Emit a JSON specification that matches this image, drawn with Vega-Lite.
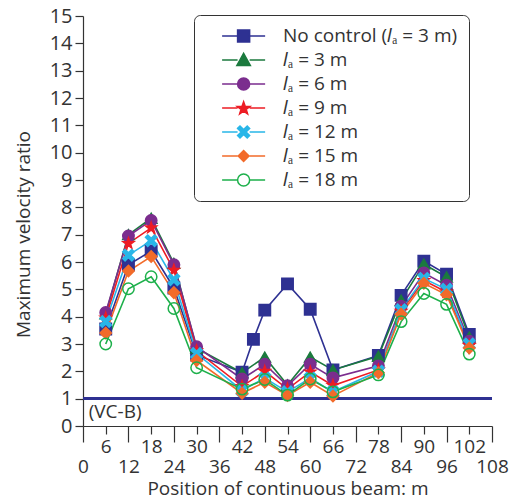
{
  "$schema": "https://vega.github.io/schema/vega-lite/v6.json",
  "width": 409,
  "height": 410,
  "autosize": {"type": "none"},
  "padding": {"left": 83, "top": 16, "right": 20, "bottom": 78},
  "config": {
    "view": {"stroke": null},
    "font": "Open Sans",
    "axis": {"domainColor": "#333", "tickColor": "#333", "labelColor": "#333", "titleColor": "#333", "grid": false, "labelFont": "Open Sans", "titleFont": "Open Sans", "titleFontWeight": "normal", "domainWidth": 1.2, "tickWidth": 1.2}
  },
  "datasets": {
    "series": [
      {"s": "No control (𝑙ₐ = 3 m)", "x": 6, "y": 3.55},
      {"s": "No control (𝑙ₐ = 3 m)", "x": 12, "y": 5.9},
      {"s": "No control (𝑙ₐ = 3 m)", "x": 18, "y": 6.4},
      {"s": "No control (𝑙ₐ = 3 m)", "x": 24, "y": 5.05},
      {"s": "No control (𝑙ₐ = 3 m)", "x": 30, "y": 2.6},
      {"s": "No control (𝑙ₐ = 3 m)", "x": 42, "y": 1.97},
      {"s": "No control (𝑙ₐ = 3 m)", "x": 45, "y": 3.17},
      {"s": "No control (𝑙ₐ = 3 m)", "x": 48, "y": 4.24},
      {"s": "No control (𝑙ₐ = 3 m)", "x": 54, "y": 5.2},
      {"s": "No control (𝑙ₐ = 3 m)", "x": 60, "y": 4.27},
      {"s": "No control (𝑙ₐ = 3 m)", "x": 66, "y": 2.05},
      {"s": "No control (𝑙ₐ = 3 m)", "x": 78, "y": 2.58},
      {"s": "No control (𝑙ₐ = 3 m)", "x": 84, "y": 4.78},
      {"s": "No control (𝑙ₐ = 3 m)", "x": 90, "y": 6.03},
      {"s": "No control (𝑙ₐ = 3 m)", "x": 96, "y": 5.55},
      {"s": "No control (𝑙ₐ = 3 m)", "x": 102, "y": 3.35},
      {"s": "𝑙ₐ = 3 m", "x": 6, "y": 4.1},
      {"s": "𝑙ₐ = 3 m", "x": 12, "y": 7.0},
      {"s": "𝑙ₐ = 3 m", "x": 18, "y": 7.6},
      {"s": "𝑙ₐ = 3 m", "x": 24, "y": 5.95},
      {"s": "𝑙ₐ = 3 m", "x": 30, "y": 2.85},
      {"s": "𝑙ₐ = 3 m", "x": 42, "y": 1.95},
      {"s": "𝑙ₐ = 3 m", "x": 48, "y": 2.52},
      {"s": "𝑙ₐ = 3 m", "x": 54, "y": 1.5},
      {"s": "𝑙ₐ = 3 m", "x": 60, "y": 2.52},
      {"s": "𝑙ₐ = 3 m", "x": 66, "y": 2.05},
      {"s": "𝑙ₐ = 3 m", "x": 78, "y": 2.55},
      {"s": "𝑙ₐ = 3 m", "x": 84, "y": 4.6},
      {"s": "𝑙ₐ = 3 m", "x": 90, "y": 5.92},
      {"s": "𝑙ₐ = 3 m", "x": 96, "y": 5.45},
      {"s": "𝑙ₐ = 3 m", "x": 102, "y": 3.25},
      {"s": "𝑙ₐ = 6 m", "x": 6, "y": 4.15},
      {"s": "𝑙ₐ = 6 m", "x": 12, "y": 6.95},
      {"s": "𝑙ₐ = 6 m", "x": 18, "y": 7.52},
      {"s": "𝑙ₐ = 6 m", "x": 24, "y": 5.9},
      {"s": "𝑙ₐ = 6 m", "x": 30, "y": 2.9},
      {"s": "𝑙ₐ = 6 m", "x": 42, "y": 1.72},
      {"s": "𝑙ₐ = 6 m", "x": 48, "y": 2.26},
      {"s": "𝑙ₐ = 6 m", "x": 54, "y": 1.47},
      {"s": "𝑙ₐ = 6 m", "x": 60, "y": 2.26},
      {"s": "𝑙ₐ = 6 m", "x": 66, "y": 1.76},
      {"s": "𝑙ₐ = 6 m", "x": 78, "y": 2.2},
      {"s": "𝑙ₐ = 6 m", "x": 84, "y": 4.38},
      {"s": "𝑙ₐ = 6 m", "x": 90, "y": 5.6},
      {"s": "𝑙ₐ = 6 m", "x": 96, "y": 5.15},
      {"s": "𝑙ₐ = 6 m", "x": 102, "y": 3.1},
      {"s": "𝑙ₐ = 9 m", "x": 6, "y": 3.95},
      {"s": "𝑙ₐ = 9 m", "x": 12, "y": 6.68},
      {"s": "𝑙ₐ = 9 m", "x": 18, "y": 7.25},
      {"s": "𝑙ₐ = 9 m", "x": 24, "y": 5.7},
      {"s": "𝑙ₐ = 9 m", "x": 30, "y": 2.75},
      {"s": "𝑙ₐ = 9 m", "x": 42, "y": 1.45},
      {"s": "𝑙ₐ = 9 m", "x": 48, "y": 2.0},
      {"s": "𝑙ₐ = 9 m", "x": 54, "y": 1.35},
      {"s": "𝑙ₐ = 9 m", "x": 60, "y": 1.98},
      {"s": "𝑙ₐ = 9 m", "x": 66, "y": 1.48},
      {"s": "𝑙ₐ = 9 m", "x": 78, "y": 2.05},
      {"s": "𝑙ₐ = 9 m", "x": 84, "y": 4.2},
      {"s": "𝑙ₐ = 9 m", "x": 90, "y": 5.32},
      {"s": "𝑙ₐ = 9 m", "x": 96, "y": 4.9},
      {"s": "𝑙ₐ = 9 m", "x": 102, "y": 2.95},
      {"s": "𝑙ₐ = 12 m", "x": 6, "y": 3.82},
      {"s": "𝑙ₐ = 12 m", "x": 12, "y": 6.25},
      {"s": "𝑙ₐ = 12 m", "x": 18, "y": 6.78},
      {"s": "𝑙ₐ = 12 m", "x": 24, "y": 5.35},
      {"s": "𝑙ₐ = 12 m", "x": 30, "y": 2.65},
      {"s": "𝑙ₐ = 12 m", "x": 42, "y": 1.3},
      {"s": "𝑙ₐ = 12 m", "x": 48, "y": 1.75},
      {"s": "𝑙ₐ = 12 m", "x": 54, "y": 1.25},
      {"s": "𝑙ₐ = 12 m", "x": 60, "y": 1.75},
      {"s": "𝑙ₐ = 12 m", "x": 66, "y": 1.25},
      {"s": "𝑙ₐ = 12 m", "x": 78, "y": 2.0},
      {"s": "𝑙ₐ = 12 m", "x": 84, "y": 4.25},
      {"s": "𝑙ₐ = 12 m", "x": 90, "y": 5.4},
      {"s": "𝑙ₐ = 12 m", "x": 96, "y": 5.0},
      {"s": "𝑙ₐ = 12 m", "x": 102, "y": 3.0},
      {"s": "𝑙ₐ = 15 m", "x": 6, "y": 3.4},
      {"s": "𝑙ₐ = 15 m", "x": 12, "y": 5.67},
      {"s": "𝑙ₐ = 15 m", "x": 18, "y": 6.2},
      {"s": "𝑙ₐ = 15 m", "x": 24, "y": 4.88},
      {"s": "𝑙ₐ = 15 m", "x": 30, "y": 2.4},
      {"s": "𝑙ₐ = 15 m", "x": 42, "y": 1.2},
      {"s": "𝑙ₐ = 15 m", "x": 48, "y": 1.6},
      {"s": "𝑙ₐ = 15 m", "x": 54, "y": 1.12},
      {"s": "𝑙ₐ = 15 m", "x": 60, "y": 1.6},
      {"s": "𝑙ₐ = 15 m", "x": 66, "y": 1.1},
      {"s": "𝑙ₐ = 15 m", "x": 78, "y": 1.95},
      {"s": "𝑙ₐ = 15 m", "x": 84, "y": 4.1},
      {"s": "𝑙ₐ = 15 m", "x": 90, "y": 5.22},
      {"s": "𝑙ₐ = 15 m", "x": 96, "y": 4.8},
      {"s": "𝑙ₐ = 15 m", "x": 102, "y": 2.85},
      {"s": "𝑙ₐ = 18 m", "x": 6, "y": 3.0},
      {"s": "𝑙ₐ = 18 m", "x": 12, "y": 5.02},
      {"s": "𝑙ₐ = 18 m", "x": 18, "y": 5.46},
      {"s": "𝑙ₐ = 18 m", "x": 24, "y": 4.3},
      {"s": "𝑙ₐ = 18 m", "x": 30, "y": 2.13},
      {"s": "𝑙ₐ = 18 m", "x": 42, "y": 1.35},
      {"s": "𝑙ₐ = 18 m", "x": 48, "y": 1.7},
      {"s": "𝑙ₐ = 18 m", "x": 54, "y": 1.13},
      {"s": "𝑙ₐ = 18 m", "x": 60, "y": 1.72},
      {"s": "𝑙ₐ = 18 m", "x": 66, "y": 1.25},
      {"s": "𝑙ₐ = 18 m", "x": 78, "y": 1.87},
      {"s": "𝑙ₐ = 18 m", "x": 84, "y": 3.82},
      {"s": "𝑙ₐ = 18 m", "x": 90, "y": 4.85},
      {"s": "𝑙ₐ = 18 m", "x": 96, "y": 4.45},
      {"s": "𝑙ₐ = 18 m", "x": 102, "y": 2.63}
    ],
    "notes": [{"x": 1.5, "y": 0.5, "t": "(VC-B)"}]
  },
  "layer": [
    {
      "data": {"name": "series"},
      "mark": {"type": "rule"},
      "encoding": {
        "y": {"datum": 1, "type": "quantitative"},
        "color": {"value": "#2E3192"},
        "strokeWidth": {"value": 2.5}
      }
    },
    {
      "data": {"name": "notes"},
      "mark": {"type": "text", "align": "left", "baseline": "middle", "fontSize": 19, "font": "Open Sans", "color": "#333"},
      "encoding": {
        "x": {"field": "x", "type": "quantitative"},
        "y": {"field": "y", "type": "quantitative"},
        "text": {"field": "t"}
      }
    },
    {
      "data": {"name": "series"},
      "mark": {"type": "line", "strokeWidth": 1.6},
      "encoding": {
        "x": {
          "field": "x", "type": "quantitative",
          "scale": {"domain": [0, 108], "nice": false},
          "axis": {
            "values": [0, 6, 12, 18, 24, 30, 36, 42, 48, 54, 60, 66, 72, 78, 84, 90, 96, 102, 108],
            "tickCount": 40,
            "format": "d",
            "title": "Position of continuous beam: m",
            "titleFontSize": 19,
            "titleY": 53,
            "labelFontSize": 19,
            "labelFlush": false,
            "labelOverlap": false,
            "labelBound": false,
            "labelExpr": "datum.value % 12 === 0 ? ['', datum.label] : datum.label",
            "labelLineHeight": 12,
            "tickSize": {"condition": {"test": "datum.value % 12 === 0", "value": 16}, "value": 8},
            "labelPadding": 3
          }
        },
        "y": {
          "field": "y", "type": "quantitative",
          "scale": {"domain": [0, 15], "nice": false},
          "axis": {
            "values": [0, 1, 2, 3, 4, 5, 6, 7, 8, 9, 10, 11, 12, 13, 14, 15],
            "tickCount": 40,
            "format": "d",
            "title": "Maximum velocity ratio",
            "titleFontSize": 19,
            "titleY": 218,
            "labelFontSize": 20,
            "labelOverlap": false,
            "tickSize": 8,
            "labelPadding": 3,
            "labelFlush": false,
            "titlePadding": 16
          }
        },
        "color": {
          "field": "s", "type": "nominal", "sort": null,
          "scale": {
            "domain": ["No control (𝑙ₐ = 3 m)", "𝑙ₐ = 3 m", "𝑙ₐ = 6 m", "𝑙ₐ = 9 m", "𝑙ₐ = 12 m", "𝑙ₐ = 15 m", "𝑙ₐ = 18 m"],
            "range": ["#2E3192", "#1B7A3E", "#7B2D8E", "#ED1C24", "#29B6E8", "#F26B2A", "#1DB04B"]
          },
          "legend": {
            "title": null,
            "orient": "none",
            "legendX": 111,
            "legendY": -1,
            "labelFontSize": 19,
            "labelFont": "Open Sans",
            "labelColor": "#333",
            "labelLimit": 400,
            "symbolSize": 324,
            "symbolStrokeWidth": 1.5,
            "labelOffset": 58,
            "rowPadding": 4,
            "padding": 11,
            "strokeColor": "#333",
            "fillColor": "white",
            "cornerRadius": 6,
            "encode": {
              "symbols": {
                "update": {
                  "shape": {"signal": "['M0.79,0H2.51M3.85,0H5.57M2.51,-0.67H3.85V0.67H2.51Z', 'M0.79,0H2.51M3.85,0H5.57M3.18,-0.75L3.93,0.6H2.43Z', 'M0.79,0H2.51M3.85,0H5.57M2.51,0A0.67,0.67 0 1,0 3.85,0A0.67,0.67 0 1,0 2.51,0Z', 'M0.79,0H2.51M3.85,0H5.57M3.18,-0.7L3.356,-0.193L3.893,-0.182L3.465,0.143L3.621,0.657L3.18,0.35L2.739,0.657L2.895,0.143L2.467,-0.182L3.004,-0.193Z', 'M0.79,0H2.51M3.85,0H5.57M2.51,-0.402L2.778,-0.67L3.18,-0.268L3.582,-0.67L3.85,-0.402L3.448,0L3.85,0.402L3.582,0.67L3.18,0.268L2.778,0.67L2.51,0.402L2.912,0Z', 'M0.79,0H2.51M3.85,0H5.57M3.18,-0.6L3.78,0L3.18,0.6L2.58,0Z', 'M0.79,0H2.51M3.85,0H5.57M2.51,0A0.67,0.67 0 1,0 3.85,0A0.67,0.67 0 1,0 2.51,0Z'][datum.index]"},
                  "fill": {"signal": "['#2E3192', '#1B7A3E', '#7B2D8E', '#ED1C24', '#29B6E8', '#F26B2A', 'white'][datum.index]"},
                  "stroke": {"signal": "['#2E3192', '#1B7A3E', '#7B2D8E', '#ED1C24', '#29B6E8', '#F26B2A', '#1DB04B'][datum.index]"},
                  "fillOpacity": {"value": 1},
                  "opacity": {"value": 1}
                }
              }
            }
          }
        }
      }
    },
    {
      "data": {"name": "series"},
      "mark": {"type": "point", "filled": true, "opacity": 1, "size": 130, "strokeWidth": 1.5},
      "encoding": {
        "x": {"field": "x", "type": "quantitative"},
        "y": {"field": "y", "type": "quantitative"},
        "shape": {
          "field": "s", "type": "nominal", "legend": null, "sort": null,
          "scale": {
            "range": ["square", "triangle-up", "circle", "M0,-1L0.235,-0.324L0.951,-0.309L0.38,0.124L0.588,0.809L0,0.4L-0.588,0.809L-0.38,0.124L-0.951,-0.309L-0.235,-0.324Z", "M-1,-0.6L-0.6,-1L0,-0.4L0.6,-1L1,-0.6L0.4,0L1,0.6L0.6,1L0,0.4L-0.6,1L-1,0.6L-0.4,0Z", "diamond", "circle"]
          }
        },
        "fill": {
          "field": "s", "type": "nominal", "legend": null, "sort": null,
          "scale": {
            "range": ["#2E3192", "#1B7A3E", "#7B2D8E", "#ED1C24", "#29B6E8", "#F26B2A", "transparent"]
          }
        },
        "stroke": {
          "field": "s", "type": "nominal", "legend": null, "sort": null,
          "scale": {
            "range": ["#2E3192", "#1B7A3E", "#7B2D8E", "#ED1C24", "#29B6E8", "#F26B2A", "#1DB04B"]
          }
        }
      }
    }
  ]
}
